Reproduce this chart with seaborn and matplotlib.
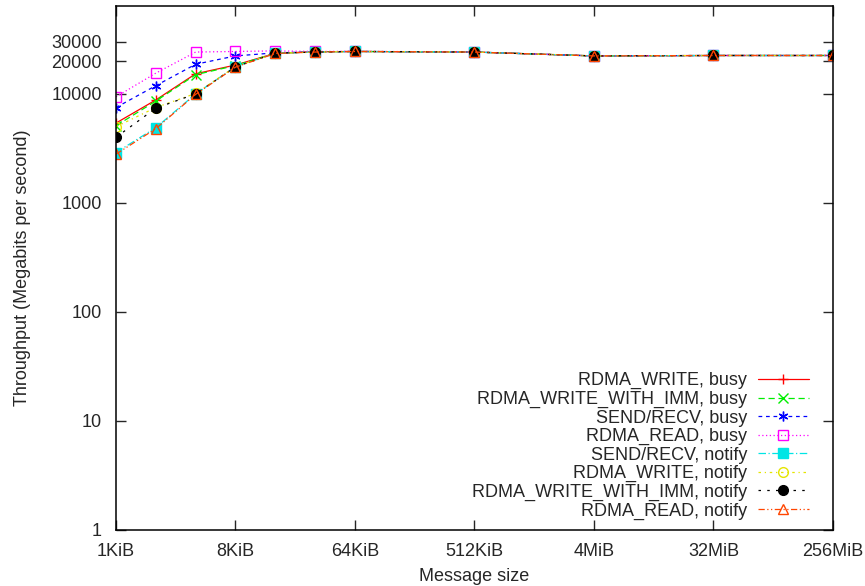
import seaborn as sns
import matplotlib
matplotlib.use("Agg")
import matplotlib.pyplot as plt
import numpy as np

# message sizes in bytes
tamanhos = [1024 * k for k in [1, 2, 4, 8, 16, 32, 64, 512, 4096, 32768, 262144]]
rotulos_x = ["1KiB", "8KiB", "64KiB", "512KiB", "4MiB", "32MiB", "256MiB"]
ticks_x = [1024 * k for k in [1, 8, 64, 512, 4096, 32768, 262144]]

ticks_y = [1, 10, 100, 1000, 10000, 20000, 30000]

write_busy = [5400, 8800, 15300, 18400, 23600, 24300, 24500, 24200, 22300, 22500, 22500]
imm_busy = [5100, 8600, 15000, 18200, 23600, 24300, 24500, 24200, 22300, 22500, 22500]
send_busy = [7500, 11900, 18700, 22300, 23800, 24300, 24500, 24200, 22300, 22500, 22500]
read_busy = [9400, 15500, 24200, 24500, 24800, 24500, 24600, 24200, 22300, 22500, 22500]
send_notify = [2900, 4900, 10000, 17800, 23600, 24200, 24500, 24200, 22300, 22500, 22500]
write_notify = [5000, 7500, 10100, 17800, 23600, 24200, 24500, 24200, 22300, 22500, 22500]
imm_notify = [4000, 7400, 10000, 17700, 23600, 24200, 24500, 24200, 22300, 22500, 22500]
read_notify = [2800, 4800, 9900, 17600, 23500, 24200, 24500, 24200, 22300, 22500, 22500]

series = [
    ("RDMA_WRITE, busy", write_busy, "#ff0000", "-", "+", "#ff0000"),
    ("RDMA_WRITE_WITH_IMM, busy", imm_busy, "#00ee00", (0, (5, 3)), "x", "#00ee00"),
    ("SEND/RECV, busy", send_busy, "#0000ff", (0, (3, 3)), (6, 2, 0), "#0000ff"),
    ("RDMA_READ, busy", read_busy, "#ff00ff", (0, (1, 2)), "s", "none"),
    ("SEND/RECV, notify", send_notify, "#00e5e5", (0, (6, 2, 1, 2)), "s", "#00e5e5"),
    ("RDMA_WRITE, notify", write_notify, "#e5e500", (0, (2, 3, 1, 3)), "o", "none"),
    ("RDMA_WRITE_WITH_IMM, notify", imm_notify, "#000000", (0, (2, 5)), "o", "#000000"),
    ("RDMA_READ, notify", read_notify, "#ff4500", (0, (5, 2, 1, 2, 1, 2)), "^", "none"),
]

sns.set_style("ticks")
plt.rcParams["font.family"] = ["Liberation Sans", "DejaVu Sans"]
plt.rcParams["font.size"] = 13

fig = plt.figure(figsize=(8.65, 5.86), dpi=100)
ax = fig.add_axes([116 / 865, 1 - 530 / 586, (833 - 116) / 865, (530 - 6) / 586])

for nome, valores, cor, estilo, marcador, preench in series:
    sns.lineplot(x=tamanhos, y=valores, ax=ax, color=cor, linestyle=estilo,
                 linewidth=0.9, marker=marcador, markersize=7,
                 markerfacecolor=preench, markeredgecolor=cor,
                 markeredgewidth=1.0, label=nome)

ax.set_xscale("log", base=2)
ax.set_yscale("log")
ax.set_xlim(1024, 262144 * 1024)
ax.set_ylim(1, 64000)
ax.set_xticks(ticks_x)
ax.set_xticklabels(rotulos_x)
ax.set_yticks(ticks_y)
ax.set_yticklabels([str(t) for t in ticks_y])
ax.minorticks_off()
ax.tick_params(direction="in", length=7, width=1.0, top=True, right=True,
               labelsize=13)
ax.tick_params(axis="x", pad=9)
ax.tick_params(axis="y", pad=10)
for s in ax.spines.values():
    s.set_linewidth(1.1)
    s.set_color("black")

ax.set_xlabel("Message size", fontsize=13, labelpad=6)
ax.set_ylabel("Throughput (Megabits per second)", fontsize=13, labelpad=15)

ax.legend(loc="lower right", bbox_to_anchor=(0.966, 0.02), frameon=False,
          markerfirst=False, handlelength=2.8, handletextpad=0.6,
          labelspacing=0.08, borderpad=0, borderaxespad=0, numpoints=1,
          fontsize=13)

fig.savefig("out.png", dpi=100)
